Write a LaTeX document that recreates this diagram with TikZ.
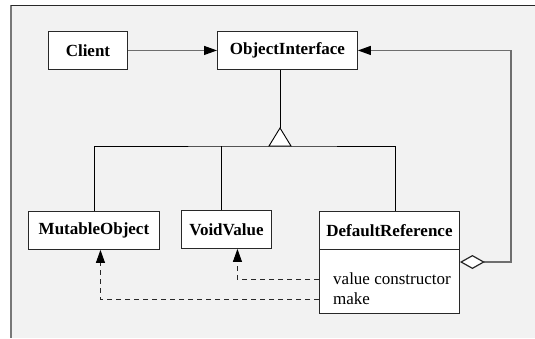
\documentclass[tikz,border=0pt]{standalone}
\usepackage{fontspec}
\setmainfont{Liberation Serif}
\usepackage{xcolor}
\definecolor{panel}{RGB}{242,242,242}
\definecolor{rim}{RGB}{120,120,120}
\definecolor{wire}{RGB}{110,110,110}
\definecolor{edge}{RGB}{40,40,40}
\usetikzlibrary{calc,arrows.meta,positioning}

\begin{document}
\begin{tikzpicture}[x=1pt,y=-1pt,
        every node/.style={font=\fontsize{17}{20.5}\selectfont},
        classbox/.style={draw=edge,fill=white,line width=0.9pt,anchor=north west,
            minimum height=38pt,inner sep=0pt,font=\fontsize{17}{20.5}\selectfont\bfseries},
        opsbox/.style={draw=edge,fill=white,line width=0.9pt,anchor=north west,inner sep=0pt},
        assoc/.style={draw=wire,line width=1.2pt,-{Triangle[length=13pt,width=9pt,color=black]}},
        dep/.style={draw=edge,line width=0.9pt,dash pattern=on 5pt off 4pt,
            -{Triangle[length=13pt,width=9pt,color=black]}},
        gen/.style={draw=black,line width=0.9pt}]
        \useasboundingbox (0,0) rectangle (535,338);
        \fill[panel] (11,5) rectangle (535,338);
        \draw[rim,line width=2pt] (11,5) -- (11,338);
        \draw[edge,line width=1pt] (11,5) -- (535,5);

        \node[classbox,minimum width=79pt] (client) at (48,31) {Client};
        \node[classbox,minimum width=140pt] (objiface) at (217,31) {ObjectInterface};
        \node[classbox,minimum width=131pt] (mutable) at (28,211) {MutableObject};
        \node[classbox,minimum width=90pt] (voidval) at (181,210) {VoidValue};
        \node[classbox,minimum width=140pt] (defref) at (319,211) {DefaultReference};
        \node[opsbox,minimum width=140pt,minimum height=64pt] (defrefops) at (319,249) {};
        \node[anchor=west,inner sep=0pt] (opvalue) at (333,279) {value constructor};
        \node[anchor=west,inner sep=0pt] (opmake) at (333,299) {make};

        \coordinate (genapex) at (280,128);
        \coordinate (genbase) at (280,146);
        \coordinate (aggbend) at (511,262);

        \draw[assoc] (client) -- (objiface);
        \draw[gen] (objiface.south -| genapex) -- (genapex);
        \draw[gen] (mutable.north) |- (genbase) -| ([xshift=6pt]defref.north);
        \draw[gen] ([xshift=-5pt]voidval.north) -- ([xshift=-5pt]voidval.north |- genbase);
        \draw[gen,fill=white] (genapex) -- ++(-11,18) -- ++(22,0) -- cycle;
        \draw[assoc,{Diamond[length=25pt,width=14pt,fill=white,color=edge]}-{Triangle[length=13pt,width=9pt,color=black]}]
            (defrefops.east |- aggbend) -- (aggbend) |- (objiface.east);
        \draw[dep] (opvalue.west -| defrefops.west) -| ([xshift=11pt]voidval.south);
        \draw[dep] (opmake.west -| defrefops.west) -| ([xshift=6.5pt]mutable.south);
\end{tikzpicture}
\end{document}
